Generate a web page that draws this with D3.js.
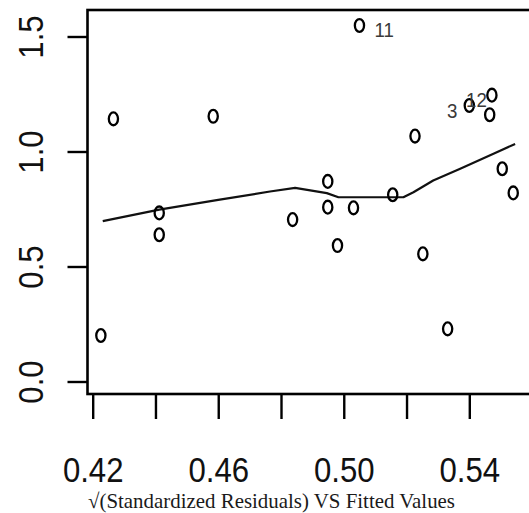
<!DOCTYPE html>
<html>
<head>
<meta charset="utf-8">
<script src="https://cdn.jsdelivr.net/npm/d3@7"></script>
<style>
  html, body { margin: 0; padding: 0; background: #fff; }
  svg { display: block; }
</style>
</head>
<body>
<div id="chart"></div>
<script>
// ---- data ----
const fittedValues = [0.4226, 0.4266, 0.4412, 0.4412, 0.4584, 0.4837, 0.4949, 0.4949, 0.4980, 0.5031,
                      0.5050, 0.5156, 0.5227, 0.5252, 0.5331, 0.5400, 0.5465, 0.5472, 0.5505, 0.5540];
const sqrtStdResiduals = [0.200, 1.142, 0.733, 0.638, 1.153, 0.704, 0.870, 0.758, 0.591, 0.755,
                          1.548, 0.812, 1.067, 0.555, 0.229, 1.200, 1.160, 1.245, 0.925, 0.820];
const pointLabels = ["", "", "", "", "", "", "", "", "", "",
                     "11", "", "", "", "", "3", "", "12", "", ""];
const smoothX = [0.4232, 0.4412, 0.4600, 0.4765, 0.4845, 0.4946, 0.4983, 0.5190, 0.5222, 0.5285, 0.5371, 0.5477, 0.5546];
const smoothY = [0.697, 0.747, 0.790, 0.826, 0.842, 0.819, 0.801, 0.801, 0.823, 0.874, 0.925, 0.990, 1.033];
const xTicks = [0.42, 0.44, 0.46, 0.48, 0.50, 0.52, 0.54, 0.56];
const xTickLabels = ["0.42", "", "0.46", "", "0.50", "", "0.54", ""];
const yTicks = [0.0, 0.5, 1.0, 1.5];
const yTickLabels = ["0.0", "0.5", "1.0", "1.5"];
const titleText = "\u221A(Standardized Residuals) VS Fitted Values";

// ---- layout ----
const W = 529, H = 513;
const svg = d3.select("#chart").append("svg").attr("width", W).attr("height", H);
svg.append("rect").attr("width", W).attr("height", H).attr("fill", "#fff");

const x = d3.scaleLinear().domain([0.42, 0.54]).range([92.7, 469.3]);
const y = d3.scaleLinear().domain([0, 1.5]).range([381.5, 36.5]);

const box = { left: 87.5, top: 10, right: 545, bottom: 394 };

// frame
svg.append("rect")
  .attr("x", box.left).attr("y", box.top)
  .attr("width", box.right - box.left).attr("height", box.bottom - box.top)
  .attr("fill", "none").attr("stroke", "#000").attr("stroke-width", 2.6);

const axisFont = "'Liberation Sans', Arial, Helvetica, sans-serif";

// x axis
const xAxis = d3.axisBottom(x).tickValues(xTicks).tickSize(25)
  .tickFormat((d, i) => xTickLabels[i]);
const gx = svg.append("g").attr("transform", `translate(0,${box.bottom})`).call(xAxis);
gx.select(".domain").remove();
gx.selectAll(".tick line").attr("stroke", "#000").attr("stroke-width", 2.4);
gx.selectAll(".tick text")
  .attr("y", 0).attr("dy", null)
  .attr("transform", "translate(0,88) scale(0.89,1)")
  .attr("fill", "#111")
  .style("font-family", axisFont).style("font-size", "35px")
  .attr("text-anchor", "middle");

// y axis
const yAxis = d3.axisLeft(y).tickValues(yTicks).tickSize(20)
  .tickFormat((d, i) => yTickLabels[i]);
const gy = svg.append("g").attr("transform", `translate(${box.left},0)`).call(yAxis);
gy.select(".domain").remove();
gy.selectAll(".tick line").attr("stroke", "#000").attr("stroke-width", 2.4);
gy.selectAll(".tick text")
  .attr("x", 0).attr("dy", null)
  .attr("transform", "translate(-45,0) rotate(-90) scale(0.89,1)")
  .attr("fill", "#111")
  .style("font-family", axisFont).style("font-size", "35px")
  .attr("text-anchor", "middle");

// smoother line
const smooth = smoothX.map((v, i) => [v, smoothY[i]]);
svg.append("path")
  .datum(smooth)
  .attr("fill", "none").attr("stroke", "#111").attr("stroke-width", 2.2)
  .attr("stroke-linejoin", "round")
  .attr("d", d3.line().x(d => x(d[0])).y(d => y(d[1])));

// points
const pts = fittedValues.map((v, i) => ({ fx: v, r: sqrtStdResiduals[i], lab: pointLabels[i] }));
svg.append("g").selectAll("ellipse").data(pts).enter().append("ellipse")
  .attr("cx", d => x(d.fx)).attr("cy", d => y(d.r))
  .attr("rx", 4.6).attr("ry", 6.4)
  .attr("fill", "none").attr("stroke", "#000").attr("stroke-width", 2.3);

// point labels (label style offsets)
const labelStyle = {
  "11": { anchor: "start", dx: 15, dy: 11.5 },
  "3":  { anchor: "end",   dx: -12, dy: 12 },
  "12": { anchor: "end",   dx: -5,  dy: 11.5 }
};
svg.append("g").selectAll("text").data(pts.filter(d => d.lab)).enter().append("text")
  .attr("transform", d => {
    const s = labelStyle[d.lab];
    return `translate(${x(d.fx) + s.dx},${y(d.r) + s.dy}) scale(0.89,1)`;
  })
  .attr("text-anchor", d => labelStyle[d.lab].anchor)
  .attr("fill", "#3a3a3a")
  .style("font-family", axisFont).style("font-size", "21px")
  .text(d => d.lab);

// title / caption
svg.append("text")
  .attr("x", 271.5).attr("y", 507.5)
  .attr("text-anchor", "middle")
  .attr("textLength", 367).attr("lengthAdjust", "spacingAndGlyphs")
  .attr("fill", "#1a1a1a")
  .style("font-family", "'Liberation Serif', 'Times New Roman', serif")
  .style("font-size", "21px")
  .text(titleText);
</script>
</body>
</html>
